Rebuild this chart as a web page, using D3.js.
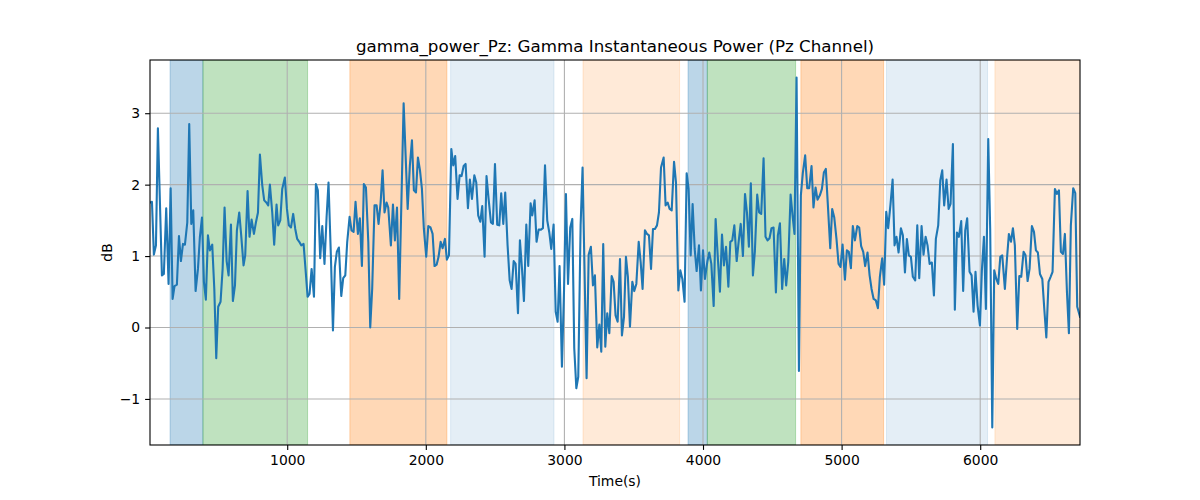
<!DOCTYPE html>
<html>
<head>
<meta charset="utf-8">
<script src="https://cdn.jsdelivr.net/npm/d3@7/dist/d3.min.js"></script>
<style>
  html, body { margin: 0; padding: 0; background: #fff; }
  svg text { font-family: "DejaVu Sans", sans-serif; }
</style>
</head>
<body>
<svg id="chart" width="1200" height="500"></svg>
<script>
// ---- data ----
const timeS = [
  10,24,38,53,67,96,110,127,144,159,173,187,204,219,233,248,262,279,293,308,322,339,356,370,385,399,413,428,442,459,474,488,502,519,534,548,563,577,594,608,623,637,654,668,685,697,714,728,743,760,774,789,803,820,834,849,
  863,875,892,906,923,935,950,964,983,998,1012,1027,1043,1058,1072,1087,1101,1118,1132,1147,1161,1176,1193,1207,1221,1238,1253,1269,1284,1298,1315,1330,1344,1358,1373,1390,1404,1419,1433,1450,1464,1479,1493,1510,1524,1539,1553,1568,1585,1599,1613,1630,1645,1659,1674,1688,1702,
  1717,1729,1748,1763,1777,1792,1808,1840,1869,1885,1900,1914,1929,1943,1958,1972,1986,2003,2018,2034,2049,2063,2078,2092,2107,2121,2138,2152,2167,2184,2198,2212,2229,2244,2258,2273,2287,2304,2318,2333,2350,2364,2378,2393,2407,2424,2438,2453,2470,2484,2499,2515,2530,2544,2559,2573,
  2590,2605,2619,2634,2648,2665,2679,2694,2708,2725,2739,2756,2768,2785,2799,2814,2831,2845,2860,2876,2891,2905,2922,2937,2951,2965,2982,2997,3011,3026,3042,3057,3071,3086,3100,3117,3131,3160,3175,3191,3206,3220,3237,3252,3266,3280,3295,3309,3324,3341,3355,3369,3384,3401,3415,3430,3444,3458,3473,
  3490,3504,3519,3536,3550,3564,3581,3596,3610,3625,3639,3653,3668,3682,3697,3716,3730,3745,3759,3774,3791,3805,3822,3836,3851,3867,3882,3896,3911,3925,3940,3954,3971,3985,4000,4014,4031,4045,4060,4077,4091,4108,4122,4137,4151,4166,4183,4197,4211,4226,4243,4257,4272,4288,4303,4317,
  4331,4345,4360,4374,4391,4405,4420,4437,4451,4466,4480,4494,4509,4526,4540,4555,4571,4586,4600,4615,4632,4646,4660,4675,4692,4706,4720,4737,4752,4766,4783,4797,4812,4826,4843,4858,4872,4886,4901,4918,4932,4947,4963,4978,4992,5007,5024,5038,5052,5067,5081,5096,5113,5127,5141,5156,5170,5187,
  5202,5216,5231,5247,5262,5276,5293,5307,5322,5336,5353,5368,5382,5396,5411,5428,5442,5457,5471,5485,5500,5514,5531,5546,5560,5577,5591,5606,5620,5635,5651,5666,5680,5697,5712,5726,5740,5757,5772,5786,5803,5817,5832,5846,5863,5877,5892,5906,5923,5938,5952,5966,5981,5998,6012,6027,6041,6058,
  6072,6087,6101,6116,6130,6145,6159,6178,6193,6207,6222,6236,6250,6267,6282,6296,6313,6327,6342,6356,6373,6388,6402,6416,6431,6448,6462,6477,6493,6508,6522,6539,6553,6568,6582,6597,6611,6626,6640,6654,6671,6686,6700,6720
];
const powerDb = [
  1.75,1.76,1.02,1.15,2.79,0.73,0.75,1.67,0.61,1.95,0.40,0.58,0.60,1.28,0.93,1.17,1.16,1.47,2.85,1.45,1.64,0.51,0.82,1.27,1.54,0.64,0.39,1.29,1.08,1.16,0.54,-0.43,0.29,0.36,0.82,1.68,0.93,0.73,1.44,0.37,0.59,1.36,1.61,1.29,0.87,1.01,1.91,1.27,1.51,1.31,1.47,1.61,2.42,1.99,1.78,1.75,
  1.71,2.00,1.61,1.16,1.72,1.43,1.50,1.94,2.10,1.66,1.43,1.40,1.59,1.38,1.24,1.20,1.15,1.17,0.82,0.43,0.47,0.82,0.43,2.01,1.92,0.97,1.42,0.89,1.54,2.03,1.01,-0.04,0.85,1.06,1.12,0.44,0.69,0.73,1.20,1.55,1.36,1.34,1.76,1.31,1.53,0.86,2.01,1.96,1.20,0.00,0.54,1.71,1.71,1.45,1.75,2.20,1.61,
  1.75,1.68,1.15,1.72,1.22,1.68,0.40,3.14,1.66,2.27,2.62,1.92,1.89,2.38,2.20,1.94,1.38,0.99,1.42,1.40,1.31,0.86,0.88,0.99,1.20,1.11,1.24,0.95,1.01,2.50,2.27,2.40,1.80,2.13,2.12,2.26,2.29,1.67,2.07,1.80,2.13,2.03,1.57,1.48,1.70,0.99,2.12,1.80,1.47,1.45,2.29,1.44,1.43,1.88,1.45,1.89,
  1.15,0.66,0.54,0.93,0.89,0.20,1.22,0.82,0.37,1.44,0.86,1.74,1.57,1.78,1.20,1.37,1.37,1.39,2.27,1.50,1.33,1.10,1.44,0.22,0.08,0.86,-0.55,0.50,1.87,0.61,1.40,1.52,-0.29,-0.85,-0.69,1.43,2.24,-0.71,1.02,1.13,0.59,0.73,-0.28,0.04,-0.34,1.17,-0.27,0.20,-0.08,0.72,0.64,0.17,0.08,0.96,-0.11,0.15,0.99,0.71,0.01,
  0.64,0.51,0.61,1.20,0.92,0.54,1.36,1.31,1.29,0.82,1.38,1.38,1.43,1.61,2.24,2.38,1.71,1.75,1.66,1.64,2.32,2.03,0.52,0.80,0.68,0.36,2.16,1.94,1.01,1.73,1.10,0.79,1.15,0.52,1.08,0.68,0.92,1.05,0.89,0.30,1.52,0.94,0.50,1.30,0.87,1.13,0.57,1.20,1.22,1.43,0.93,1.20,1.45,1.00,1.87,1.61,
  1.13,2.02,0.73,1.06,1.86,1.61,1.59,2.37,1.27,1.22,1.25,1.39,1.40,0.49,1.29,1.46,0.54,0.96,0.59,0.92,1.86,1.57,1.31,3.50,-0.61,1.85,2.16,2.41,1.95,1.95,2.26,1.68,1.96,1.79,1.85,1.94,2.17,2.22,1.71,1.11,1.66,1.54,1.24,0.89,0.85,1.16,0.67,1.08,1.06,0.83,1.42,1.22,1.42,1.40,1.14,1.06,0.86,1.05,
  0.73,0.54,0.40,0.38,0.27,0.71,0.97,0.60,1.62,1.39,1.73,2.07,1.15,1.27,1.05,1.39,1.29,0.77,1.24,1.01,0.99,0.71,0.66,1.43,0.69,1.42,1.02,1.27,1.15,0.89,0.91,0.45,1.24,1.43,2.06,2.20,1.71,2.07,1.66,1.73,2.57,0.25,1.33,1.27,1.49,0.51,1.36,1.53,0.78,0.73,0.22,0.78,0.31,0.03,0.80,1.27,0.26,2.64,
  1.38,-1.40,0.80,0.68,0.61,0.99,1.01,0.54,0.96,1.31,1.20,1.39,1.15,-0.02,0.72,0.71,1.06,1.01,0.65,0.82,1.42,1.34,1.08,1.05,0.75,0.68,0.27,-0.14,0.64,0.71,0.78,1.94,1.87,1.92,1.06,1.03,1.31,0.49,-0.08,1.43,1.95,1.88,0.29,0.15
];

// shaded phases
const spanStart = [155, 392, 1452, 2179, 3134, 3892, 4031, 4706, 5324, 6106];
const spanEnd   = [392, 1147, 2152, 2925, 3831, 4031, 4668, 5303, 6053, 6760];
const spanKind  = ["A", "B", "C", "D", "E", "A", "B", "C", "D", "E"];

const xTicks = [1000, 2000, 3000, 4000, 5000, 6000];
const yTicks = [-1, 0, 1, 2, 3];

const titleText = "gamma_power_Pz: Gamma Instantaneous Power (Pz Channel)";
const xLabel = "Time(s)";
const yLabel = "dB";

// ---- styles ----
const kindStyle = {
  A: { color: "#1f77b4", alpha: 0.3 },
  B: { color: "#2ca02c", alpha: 0.3 },
  C: { color: "#ff7f0e", alpha: 0.3 },
  D: { color: "#1f77b4", alpha: 0.12 },
  E: { color: "#ff7f0e", alpha: 0.16 }
};

const margin = { left: 150, top: 60, right: 120, bottom: 55 };
const W = 1200, H = 500;
const iw = W - margin.left - margin.right;  // 930
const ih = H - margin.top - margin.bottom;  // 385

const data = timeS.map((t, i) => ({ t, v: powerDb[i] }));

const x = d3.scaleLinear().domain(d3.extent(timeS)).range([0, iw]);
const [vmin, vmax] = d3.extent(powerDb);
const pad = (vmax - vmin) * 0.05;
const y = d3.scaleLinear().domain([vmin - pad, vmax + pad]).range([ih, 0]);

const svg = d3.select("#chart");
svg.append("rect").attr("width", W).attr("height", H).attr("fill", "#fff");

svg.append("defs").append("clipPath").attr("id", "clip")
  .append("rect").attr("width", iw).attr("height", ih);

const g = svg.append("g").attr("transform", `translate(${margin.left},${margin.top})`);

// spans
const spans = spanStart.map((s, i) => ({ s, e: spanEnd[i], k: spanKind[i] }));
g.append("g").attr("clip-path", "url(#clip)")
  .selectAll("rect").data(spans).join("rect")
  .attr("x", d => x(d.s))
  .attr("width", d => x(d.e) - x(d.s))
  .attr("y", 0).attr("height", ih)
  .attr("fill", d => kindStyle[d.k].color)
  .attr("fill-opacity", d => kindStyle[d.k].alpha)
  .attr("stroke", d => kindStyle[d.k].color)
  .attr("stroke-opacity", d => kindStyle[d.k].alpha)
  .attr("stroke-width", 1);

// grid
const grid = g.append("g").attr("class", "grid");
grid.selectAll("line.gx").data(xTicks).join("line")
  .attr("x1", d => x(d)).attr("x2", d => x(d))
  .attr("y1", 0).attr("y2", ih)
  .attr("stroke", "#b0b0b0").attr("stroke-width", 1.1);
grid.selectAll("line.gy").data(yTicks).join("line")
  .attr("y1", d => y(d)).attr("y2", d => y(d))
  .attr("x1", 0).attr("x2", iw)
  .attr("stroke", "#b0b0b0").attr("stroke-width", 1.1);

// line
const line = d3.line().x(d => x(d.t)).y(d => y(d.v));
g.append("path").datum(data)
  .attr("clip-path", "url(#clip)")
  .attr("d", line)
  .attr("fill", "none")
  .attr("stroke", "#1f77b4")
  .attr("stroke-width", 2.1)
  .attr("stroke-linejoin", "round")
  .attr("stroke-linecap", "square");

// axes
const fmt = d => (d < 0 ? "\u2212" + Math.abs(d) : String(d));
const xAxis = g.append("g").attr("transform", `translate(0,${ih})`)
  .call(d3.axisBottom(x).tickValues(xTicks).tickSize(4.9).tickPadding(4.9).tickFormat(fmt));
const yAxis = g.append("g")
  .call(d3.axisLeft(y).tickValues(yTicks).tickSize(4.9).tickPadding(4.9).tickFormat(fmt));
[xAxis, yAxis].forEach(a => {
  a.select(".domain").remove();
  a.selectAll(".tick line").attr("stroke", "#000").attr("stroke-width", 1.1);
  a.selectAll(".tick text").attr("fill", "#000").style("font-size", "13.9px")
    .style("font-family", "'DejaVu Sans', sans-serif");
});

// frame
g.append("rect").attr("width", iw).attr("height", ih)
  .attr("fill", "none").attr("stroke", "#000").attr("stroke-width", 1.1);

// labels
svg.append("text").attr("x", margin.left + iw / 2).attr("y", 52)
  .attr("text-anchor", "middle").style("font-size", "16.7px").text(titleText);
svg.append("text").attr("x", margin.left + iw / 2).attr("y", 486)
  .attr("text-anchor", "middle").style("font-size", "13.9px").text(xLabel);
svg.append("text")
  .attr("transform", `translate(112,${margin.top + ih / 2}) rotate(-90)`)
  .attr("text-anchor", "middle").style("font-size", "13.9px").text(yLabel);
</script>
</body>
</html>
